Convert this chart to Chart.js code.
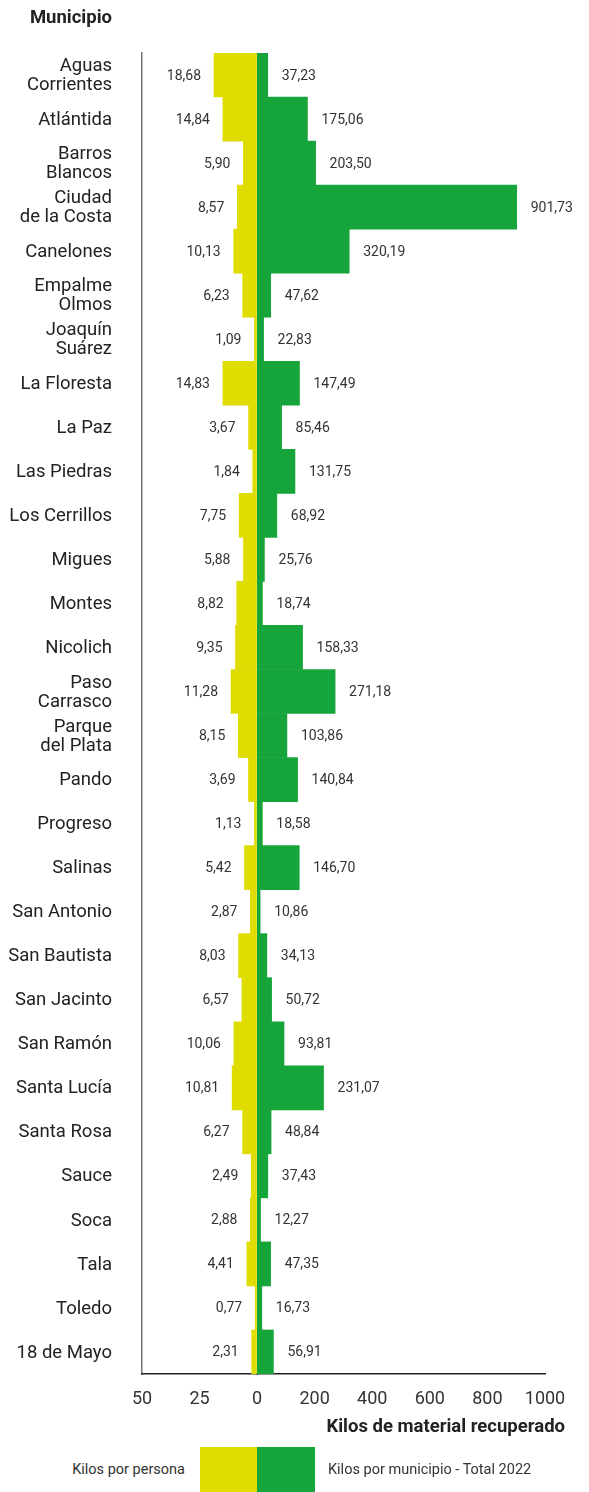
<!DOCTYPE html>
<html>
<head>
<meta charset="utf-8">
<script src="https://cdn.jsdelivr.net/npm/chart.js@4"></script>
<style>
  body { margin: 0; background: #fff; font-family: Roboto, sans-serif; }
  #wrap { position: relative; width: 589px; height: 1492px; }
  #chart { position: absolute; left: 0; top: 0; }
  .txt { position: absolute; white-space: nowrap; color: #222; }
  .sw { position: absolute; }
</style>
</head>
<body>
<div id="wrap">
  <canvas id="chart" width="589" height="1440"></canvas>
  <div class="txt" style="right:477px; top:7px; font-size:18.5px; font-weight:700; line-height:20px;">Municipio</div>
  <div class="txt" style="right:24px; top:1416px; font-size:18.5px; font-weight:700; line-height:20px;">Kilos de material recuperado</div>
  <div class="txt" style="right:404px; top:1461px; font-size:14.5px; line-height:18px; color:#333;">Kilos por persona</div>
  <div class="sw" style="left:200px; top:1447px; width:57px; height:45px; background:#dfdc00;"></div>
  <div class="sw" style="left:257px; top:1447px; width:58px; height:45px; background:#15a53a;"></div>
  <div class="txt" style="left:328px; top:1461px; font-size:14.5px; line-height:18px; color:#333;">Kilos por municipio - Total 2022</div>
</div>
<script>
// municipios (multi-line labels as arrays)
const municipios = [
  ['Aguas', 'Corrientes'], 'Atlántida', ['Barros', 'Blancos'], ['Ciudad', 'de la Costa'],
  'Canelones', ['Empalme', 'Olmos'], ['Joaquín', 'Suárez'], 'La Floresta', 'La Paz',
  'Las Piedras', 'Los Cerrillos', 'Migues', 'Montes', 'Nicolich', ['Paso', 'Carrasco'],
  ['Parque', 'del Plata'], 'Pando', 'Progreso', 'Salinas', 'San Antonio', 'San Bautista',
  'San Jacinto', 'San Ramón', 'Santa Lucía', 'Santa Rosa', 'Sauce', 'Soca', 'Tala',
  'Toledo', '18 de Mayo'
]

const kilosPersona = [
  18.68, 14.84, 5.90, 8.57, 10.13, 6.23, 1.09, 14.83, 3.67, 1.84,
  7.75, 5.88, 8.82, 9.35, 11.28, 8.15, 3.69, 1.13, 5.42, 2.87,
  8.03, 6.57, 10.06, 10.81, 6.27, 2.49, 2.88, 4.41, 0.77, 2.31
]

const kilosMunicipio = [
  37.23, 175.06, 203.50, 901.73, 320.19, 47.62, 22.83, 147.49, 85.46, 131.75,
  68.92, 25.76, 18.74, 158.33, 271.18, 103.86, 140.84, 18.58, 146.70, 10.86,
  34.13, 50.72, 93.81, 231.07, 48.84, 37.43, 12.27, 47.35, 16.73, 56.91
]

const ticksPersona = [50, 25, 0]
const ticksMunicipio = [200, 400, 600, 800, 1000]

const YELLOW = '#dfdc00'
const GREEN = '#15a53a'

// value labels beside each bar
const valueLabels = {
  id: 'valueLabels',
  afterDatasetsDraw(chart) {
    const ctx = chart.ctx
    ctx.save()
    ctx.font = '14px Roboto'
    ctx.fillStyle = '#333'
    ctx.textBaseline = 'middle'
    chart.data.datasets.forEach((ds, i) => {
      const meta = chart.getDatasetMeta(i)
      meta.data.forEach((bar, j) => {
        const txt = ds.data[j].toFixed(2).replace('.', ',')
        if (i === 0) {
          ctx.textAlign = 'right'
          ctx.fillText(txt, bar.x - 13, bar.y + 1)
        } else {
          ctx.textAlign = 'left'
          ctx.fillText(txt, bar.x + 14, bar.y + 1)
        }
      })
    })
    ctx.restore()
  }
}

const tickFont = { family: 'Roboto', size: 18 }

new Chart(document.getElementById('chart'), {
  type: 'bar',
  data: {
    labels: municipios,
    datasets: [{
      label: 'Kilos por persona',
      data: kilosPersona,
      xAxisID: 'xl',
      backgroundColor: YELLOW,
    }, {
      label: 'Kilos por municipio - Total 2022',
      data: kilosMunicipio,
      xAxisID: 'xr',
      backgroundColor: GREEN,
    }]
  },
  options: {
    indexAxis: 'y',
    responsive: false,
    animation: false,
    grouped: false,
    barPercentage: 1,
    categoryPercentage: 1,
    layout: { padding: { top: 53, right: 44, bottom: 26, left: 0 } },
    plugins: { legend: { display: false }, tooltip: { enabled: false } },
    scales: {
      y: {
        position: 'left',
        afterFit: s => { s.width = 142 },
        grid: { drawOnChartArea: false, drawTicks: false },
        border: { display: true, color: '#777', width: 1.5 },
        ticks: {
          padding: 30,
          labelOffset: 1,
          color: '#222',
          font: { family: 'Roboto', size: 18.5, lineHeight: 1.02 }
        }
      },
      xl: {
        type: 'linear',
        position: 'bottom',
        stack: 'x',
        stackWeight: 115,
        reverse: true,
        min: 0,
        max: 50,
        afterFit: s => { s.height = 40 },
        afterBuildTicks: s => { s.ticks = ticksPersona.map(v => ({ value: v })) },
        grid: { drawOnChartArea: false, drawTicks: false },
        border: { display: true, color: '#222', width: 1.5 },
        ticks: { padding: 15, color: '#333', font: tickFont, maxRotation: 0, callback: v => String(v) }
      },
      xr: {
        type: 'linear',
        position: 'bottom',
        stack: 'x',
        stackWeight: 288,
        min: 0,
        max: 1000,
        afterFit: s => { s.height = 40 },
        afterBuildTicks: s => { s.ticks = ticksMunicipio.map(v => ({ value: v })) },
        grid: { drawOnChartArea: false, drawTicks: false },
        border: { display: true, color: '#222', width: 1.5 },
        ticks: { padding: 15, color: '#333', font: tickFont, maxRotation: 0, callback: v => String(v) }
      }
    }
  },
  plugins: [valueLabels]
})
</script>
</body>
</html>
